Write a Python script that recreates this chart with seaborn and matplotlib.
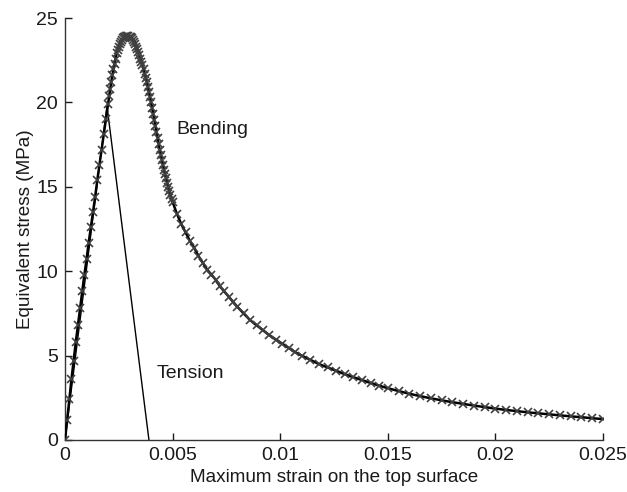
import matplotlib
matplotlib.use("Agg")
import matplotlib.pyplot as plt
import seaborn as sns
import pandas as pd

# Bending curve (strain, equivalent stress in MPa)
bending_strain = [0.0000, 0.0001, 0.0002, 0.0003, 0.0004, 0.0005, 0.0006, 0.0007, 0.0008, 0.0009,
                  0.0010, 0.0011, 0.0012, 0.0013, 0.0014, 0.0015, 0.0016, 0.0017, 0.0018, 0.0019,
                  0.00200, 0.00205, 0.00210, 0.00215, 0.00220, 0.00225, 0.00230, 0.00235, 0.00240, 0.00245,
                  0.00250, 0.00255, 0.00260, 0.00265, 0.00270, 0.00275, 0.00280, 0.00285, 0.00290, 0.00295,
                  0.00300, 0.00305, 0.00310, 0.00315, 0.00320, 0.00325, 0.00330, 0.00335, 0.00340, 0.00345,
                  0.00350, 0.00355, 0.00360, 0.00365, 0.00370, 0.00375, 0.00380, 0.00385, 0.00390, 0.00395,
                  0.00400, 0.00405, 0.00410, 0.00415, 0.00420, 0.00425, 0.00430, 0.00435, 0.00440, 0.00445,
                  0.00450, 0.00455, 0.00460, 0.00465, 0.00470, 0.00475, 0.00480, 0.00485, 0.00490, 0.00495,
                  0.0050, 0.0052, 0.0054, 0.0056, 0.0058, 0.0060, 0.0062, 0.0064, 0.0066, 0.0068,
                  0.0070, 0.0072, 0.0074, 0.0076, 0.0078, 0.0080, 0.0083, 0.0086, 0.0089, 0.0092,
                  0.0095, 0.0098, 0.0101, 0.0104, 0.0107, 0.0110, 0.0114, 0.0118, 0.0122, 0.0126,
                  0.0130, 0.0134, 0.0138, 0.0142, 0.0146, 0.0150, 0.0155, 0.0160, 0.0165, 0.0170,
                  0.0175, 0.0180, 0.0185, 0.0190, 0.0195, 0.0200, 0.0205, 0.0210, 0.0215, 0.0220,
                  0.0225, 0.0230, 0.0235, 0.0240, 0.0245, 0.0250]
bending_stress = [0.0, 1.2, 2.4, 3.6, 4.7, 5.8, 6.8, 7.8, 8.8, 9.8,
                  10.7, 11.7, 12.6, 13.5, 14.4, 15.4, 16.3, 17.2, 18.1, 19.0,
                  19.9, 20.35, 20.8, 21.2, 21.6, 21.95, 22.3, 22.6, 22.9, 23.1,
                  23.3, 23.45, 23.6, 23.7, 23.8, 23.85, 23.9, 23.93, 23.95, 23.93,
                  23.9, 23.85, 23.8, 23.7, 23.6, 23.45, 23.3, 23.15, 23.0, 22.8,
                  22.6, 22.4, 22.2, 21.95, 21.7, 21.45, 21.2, 20.9, 20.6, 20.3,
                  20.0, 19.65, 19.3, 18.95, 18.6, 18.25, 17.9, 17.55, 17.2, 16.9,
                  16.6, 16.3, 16.0, 15.75, 15.5, 15.25, 15.0, 14.75, 14.5, 14.3,
                  14.1, 13.4, 12.8, 12.3, 11.8, 11.4, 10.9, 10.5, 10.1, 9.8,
                  9.5, 9.1, 8.8, 8.5, 8.2, 7.9, 7.5, 7.1, 6.8, 6.5,
                  6.2, 5.95, 5.7, 5.45, 5.2, 5.0, 4.75, 4.5, 4.3, 4.1,
                  3.9, 3.72, 3.55, 3.38, 3.22, 3.07, 2.9, 2.74, 2.6, 2.47,
                  2.35, 2.24, 2.14, 2.04, 1.95, 1.86, 1.78, 1.71, 1.64, 1.58,
                  1.52, 1.46, 1.40, 1.35, 1.29, 1.24]

# Tension curve
tension_strain = [0.0, 0.00195, 0.0039]
tension_stress = [0.0, 19.8, 0.0]

x_ticks = [0, 0.005, 0.01, 0.015, 0.02, 0.025]
x_tick_labels = ["0", "0.005", "0.01", "0.015", "0.02", "0.025"]
y_ticks = [0, 5, 10, 15, 20, 25]

sns.set_style("white")
plt.rcParams["font.family"] = ["Liberation Sans", "DejaVu Sans"]

fig = plt.figure(figsize=(6.27, 4.92), dpi=100)
ax = fig.add_axes([0.1037, 0.1057, 0.8580, 0.8577])

bend = pd.DataFrame({"strain": bending_strain, "stress": bending_stress})
tens = pd.DataFrame({"strain": tension_strain, "stress": tension_stress})

sns.lineplot(data=tens, x="strain", y="stress", ax=ax, sort=False, estimator=None,
             color="black", linewidth=1.0, zorder=2)
sns.lineplot(data=bend, x="strain", y="stress", ax=ax, sort=False, estimator=None,
             color="black", linewidth=1.8, marker="x", markersize=6,
             markeredgecolor="#404040", markeredgewidth=1.2, zorder=3)

ax.text(0.00516, 18.4, "Bending", fontsize=14, va="center", ha="left", color="#1a1a1a")
ax.text(0.00428, 3.95, "Tension", fontsize=14, va="center", ha="left", color="#1a1a1a")

ax.set_xlim(0, 0.025)
ax.set_ylim(0, 25)
ax.set_xticks(x_ticks)
ax.set_xticklabels(x_tick_labels)
ax.set_yticks(y_ticks)
ax.tick_params(direction="in", length=5, width=1, labelsize=14, colors="#1a1a1a",
               bottom=True, left=True, pad=5)
ax.set_xlabel("Maximum strain on the top surface", fontsize=13.6, color="#1a1a1a", labelpad=4)
ax.set_ylabel("Equivalent stress (MPa)", fontsize=13.6, color="#1a1a1a", labelpad=2)

for s in ["top", "right"]:
    ax.spines[s].set_visible(False)
for s in ["left", "bottom"]:
    ax.spines[s].set_color("#333333")
    ax.spines[s].set_linewidth(1.0)

fig.savefig("out.png", dpi=100)
